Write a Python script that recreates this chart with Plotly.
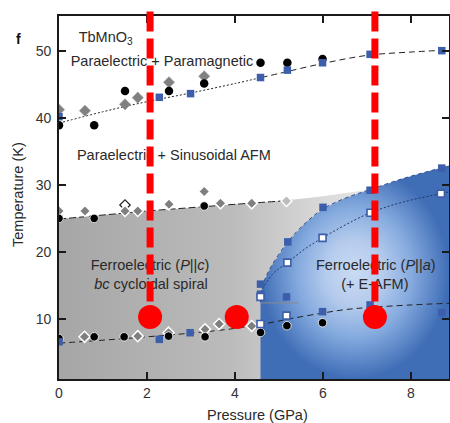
import plotly.graph_objects as go

FONT = "Liberation Sans, Arial, sans-serif"
X_RANGE = [0, 8.864]
Y_RANGE = [1.06, 55.17]

# ---------------- data ----------------
# upper transition (paramagnetic -> sinusoidal AFM)
top_circ_P = [0, 0.8, 1.5, 2.5, 3.3, 4.58, 5.19, 5.99]
top_circ_T = [38.9, 38.9, 44.0, 44.0, 45.1, 48.2, 48.2, 48.76]
top_diam_P = [0, 0.59, 1.5, 1.79, 2.5, 3.3]
top_diam_T = [41.2, 41.05, 42.0, 43.0, 45.3, 46.2]
top_sq_P = [0, 2.28, 2.99, 4.58, 5.19, 5.99, 7.07, 8.7]
top_sq_T = [40.16, 43.05, 43.6, 46.0, 47.1, 48.2, 49.46, 50.0]
top_fit_a_P = [0, 1, 2, 3, 4, 4.6]
top_fit_a_T = [39.2, 40.9, 42.4, 43.7, 45.1, 46.0]
top_fit_b_P = [4.6, 5, 6, 7, 8, 8.864]
top_fit_b_T = [46.0, 46.6, 48.1, 49.3, 49.8, 50.1]

# middle transition (sinusoidal -> cycloidal)
mid_circ_P = [0, 0.8, 3.3]
mid_circ_T = [25.0, 25.0, 26.85]
mid_open_diam_P = [1.5]
mid_open_diam_T = [27.0]
mid_diam_P = [0, 0.59, 1.5, 1.79, 2.5, 3.3, 3.67, 4.38]
mid_diam_T = [26.1, 26.1, 26.1, 26.1, 27.1, 29.0, 27.25, 27.25]
mid_light_diam_P = [5.17]
mid_light_diam_T = [27.6]
mid_fit_P = [0, 1, 2, 3, 4, 5.3]
mid_fit_T = [24.9, 25.5, 26.1, 26.6, 27.1, 27.7]

# lower transition
low_circ_P = [0, 0.8, 1.48, 2.49, 3.32, 4.58, 5.18, 5.99]
low_circ_T = [7.1, 7.35, 7.35, 7.45, 7.35, 8.0, 9.0, 9.45]
low_diam_P = [0.58, 1.79, 2.49, 3.32, 3.64, 4.38]
low_diam_T = [7.35, 7.45, 7.96, 8.46, 9.25, 8.96]
low_sq_P = [0, 2.28, 2.98, 5.99, 7.07, 8.7]
low_sq_T = [6.6, 6.97, 7.96, 11.1, 12.1, 10.94]
low_open_sq_P = [4.58, 5.17]
low_open_sq_T = [9.25, 10.5]
low_fit_P = [0, 1, 2, 3, 4, 4.76, 5.3, 6, 6.5, 7, 8, 8.864]
low_fit_T = [6.4, 6.85, 7.35, 7.9, 8.6, 9.4, 10.1, 10.9, 11.4, 11.7, 12.1, 12.35]
low_hline_P = [4.58, 5.45]
low_hline_T = [12.4, 12.4]

# P||a dome
dome_sq_P = [4.58, 4.58, 5.17, 5.2, 6.0, 7.07, 8.7]
dome_sq_T = [13.7, 15.2, 13.3, 21.5, 26.65, 29.2, 32.5]
dome_open_sq_P = [4.58, 5.19, 5.99, 7.08, 8.68]
dome_open_sq_T = [13.3, 18.4, 22.1, 25.85, 28.7]
dome_edge_P = [4.58, 4.58, 4.6, 4.66, 4.82, 5.2, 5.6, 6.0, 6.5, 7.07, 7.8, 8.5, 8.864]
dome_edge_T = [1.06, 12.5, 14.0, 15.6, 17.8, 21.5, 24.3, 26.4, 28.0, 29.3, 30.9, 32.2, 32.8]
inner_fit_P = [4.58, 4.87, 5.19, 5.6, 5.99, 6.5, 7.08, 7.8, 8.68, 8.864]
inner_fit_T = [14.0, 16.8, 18.4, 20.5, 22.1, 24.0, 25.85, 27.4, 28.7, 28.95]

# P||c region (gray) outline
gray_P = [0, 0, 1, 2, 3, 4, 5.2, 6.0, 7.07, 7.07]
gray_T = [1.06, 24.9, 25.5, 26.1, 26.6, 27.1, 27.7, 28.3, 29.3, 1.06]

# red markers
red_line_P = [2.07, 7.18]
red_dot_P = [2.07, 4.04, 7.18]
red_dot_T = [10.3, 10.3, 10.3]

# labels
labels = [
    ("TbMnO<sub>3</sub>", 1.06, 51.9),
    ("Paraelectric + Paramagnetic", 2.34, 48.2),
    ("Paraelectric + Sinusoidal AFM", 2.61, 34.2),
    ("Ferroelectric (<i>P</i>||<i>c</i>)", 2.07, 17.8),
    ("<i>bc</i> cycloidal spiral", 2.09, 15.07),
    ("Ferroelectric (<i>P</i>||<i>a</i>)", 7.2, 17.9),
    ("(+ E-AFM)", 7.18, 15.07),
]

# ---------------- figure ----------------
fig = go.Figure()

# gray region
fig.add_trace(go.Scatter(
    x=gray_P, y=gray_T, mode="lines", fill="toself", line=dict(width=0),
    fillgradient=dict(type="horizontal",
                      colorscale=[[0, "#a6a6a6"], [0.55, "#bbbbbb"], [1, "#e8e8e8"]]),
    hoverinfo="skip", showlegend=False))

# blue dome
dome_poly_P = dome_edge_P + [8.864]
dome_poly_T = dome_edge_T + [1.06]
fig.add_trace(go.Scatter(
    x=dome_poly_P, y=dome_poly_T, mode="lines", fill="toself", line=dict(width=0),
    fillgradient=dict(type="radial",
                      colorscale=[[0, "#c9dbf3"], [0.3, "#b6cced"], [0.6, "#86abdf"], [1, "#3f6db6"]]),
    hoverinfo="skip", showlegend=False))

def line(px, py, dash, color="#222", width=1.0, shape="spline"):
    fig.add_trace(go.Scatter(x=px, y=py, mode="lines", line=dict(color=color, width=width, dash=dash, shape=shape),
                             hoverinfo="skip", showlegend=False))

line(dome_edge_P[1:], dome_edge_T[1:], "4px,3px", color="#2c4f8c", width=1.0)
line(inner_fit_P, inner_fit_T, "2px,2px", color="#1e3560", width=1.0)
line(top_fit_a_P, top_fit_a_T, "2px,2px")
line(top_fit_b_P, top_fit_b_T, "6px,4px")
line(mid_fit_P, mid_fit_T, "7px,3px")
line(low_fit_P, low_fit_T, "6px,4px")
line(low_hline_P, low_hline_T, "solid", color="#8a8a8a", width=1.0, shape="linear")

def markers(px, py, symbol, size, color, lcolor="white", lwidth=1.0):
    fig.add_trace(go.Scatter(x=px, y=py, mode="markers",
                             marker=dict(symbol=symbol, size=size, color=color,
                                         line=dict(color=lcolor, width=lwidth)),
                             hoverinfo="skip", showlegend=False))

markers(mid_open_diam_P, mid_open_diam_T, "diamond", 8, "white", "#222", 1.2)
markers(top_diam_P, top_diam_T, "diamond", 8.5, "#808080", "#9a9a9a", 0.8)
markers(mid_diam_P, mid_diam_T, "diamond", 8.5, "#7f7f7f", "white", 1.5)
markers(mid_light_diam_P, mid_light_diam_T, "diamond", 8.5, "#bdbdbd", "white", 1.5)
markers(low_diam_P, low_diam_T, "diamond", 8.5, "#7f7f7f", "white", 1.5)
markers(top_circ_P, top_circ_T, "circle", 8.5, "black", "black", 0)
markers(mid_circ_P, mid_circ_T, "circle", 8.5, "black", "white", 0.8)
markers(low_circ_P, low_circ_T, "circle", 8.5, "black", "white", 0.8)
markers(top_sq_P, top_sq_T, "square", 7.5, "#3c5eab", "#3c5eab", 0)
markers(low_sq_P, low_sq_T, "square", 7.5, "#3c5eab", "#3c5eab", 0)
markers(dome_sq_P, dome_sq_T, "square", 7.5, "#3c5eab", "#3c5eab", 0)
markers(dome_open_sq_P, dome_open_sq_T, "square", 7, "white", "#3c5eab", 1.6)
markers(low_open_sq_P, low_open_sq_T, "square", 7, "white", "#3c5eab", 1.6)

for txt, px, py in labels:
    fig.add_trace(go.Scatter(x=[px], y=[py], mode="text", text=[txt], textposition="middle center",
                             textfont=dict(family=FONT, size=14.5, color="#2a2a2a"),
                             hoverinfo="skip", showlegend=False, cliponaxis=False))

fig.add_trace(go.Scatter(x=red_dot_P, y=red_dot_T, mode="markers",
                         marker=dict(symbol="circle", size=24, color="#ff0000", line=dict(width=0)),
                         hoverinfo="skip", showlegend=False))

def to_paper(t):
    return (t - Y_RANGE[0]) / (Y_RANGE[1] - Y_RANGE[0])

for px in red_line_P:
    fig.add_shape(type="line", xref="x", yref="paper", x0=px, x1=px,
                  y0=1.0124, y1=to_paper(red_dot_T[0]),
                  line=dict(color="#ff0000", width=7, dash="20px,7px"), layer="above")

axis_common = dict(showgrid=False, zeroline=False, showline=True, linecolor="#1a1a1a", linewidth=1.8,
                   mirror="ticks", ticks="inside", ticklen=7, tickwidth=1.5, tickcolor="#1a1a1a",
                   tickfont=dict(family=FONT, size=14, color="#333"), automargin=False)

fig.update_xaxes(range=X_RANGE, tickvals=[0, 2, 4, 6, 8], **axis_common)
fig.update_yaxes(range=Y_RANGE, tickvals=[10, 20, 30, 40, 50], ticklabelstandoff=3, **axis_common)

fig.update_layout(
    width=450, height=423,
    margin=dict(l=59, r=1, t=16, b=44),
    plot_bgcolor="white", paper_bgcolor="white",
    font=dict(family=FONT),
    annotations=[
        dict(text="Temperature (K)", xref="paper", yref="paper", x=-0.105, y=0.507,
             textangle=-90, showarrow=False, xanchor="center", yanchor="middle",
             font=dict(family=FONT, size=14.5, color="#2a2a2a")),
        dict(text="Pressure (GPa)", xref="paper", yref="paper", x=0.5077, y=-0.0992,
             showarrow=False, xanchor="center", yanchor="middle",
             font=dict(family=FONT, size=14.5, color="#2a2a2a")),
        dict(text="<b>f</b>", xref="paper", yref="paper", x=-0.105, y=0.9366,
             showarrow=False, xanchor="center", yanchor="middle",
             font=dict(family=FONT, size=14, color="#111")),
    ],
)

fig.write_html("out.html", config={"displayModeBar": False},
               post_script="document.body.style.margin='0';document.body.style.overflow='hidden';")
